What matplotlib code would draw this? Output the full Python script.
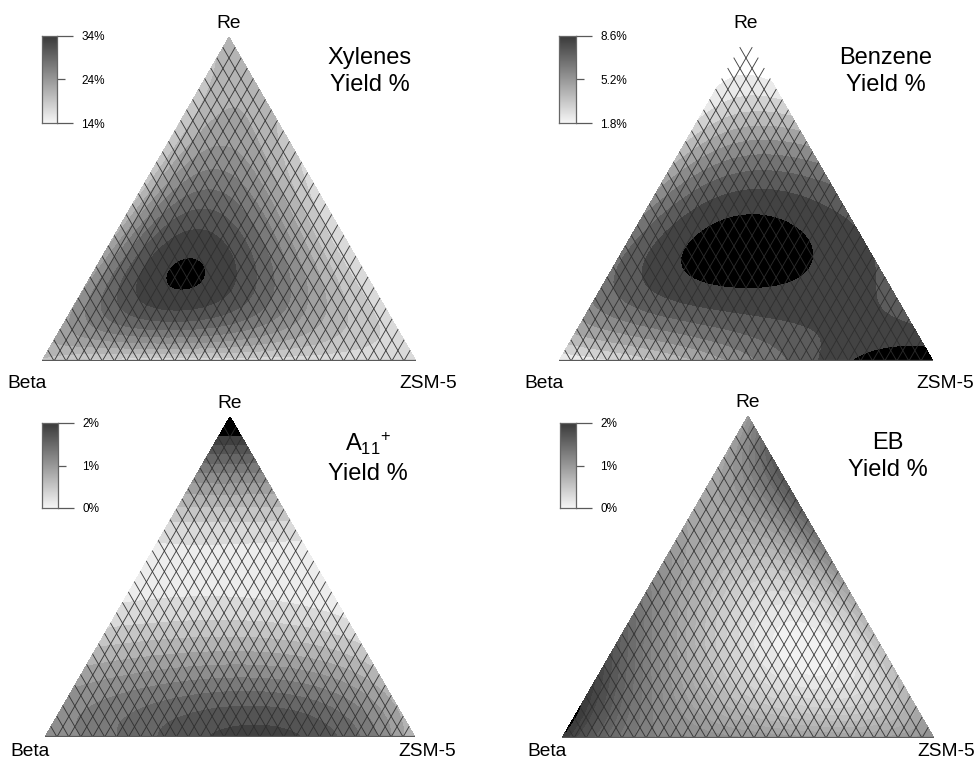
import numpy as np
import matplotlib
matplotlib.use("Agg")
import matplotlib.pyplot as plt
import matplotlib.tri as mtri
from matplotlib.colors import LinearSegmentedColormap

plt.rcParams['font.family'] = ['Liberation Sans', 'DejaVu Sans']
plt.rcParams['mathtext.fontset'] = 'custom'
plt.rcParams['mathtext.rm'] = 'Liberation Sans'
plt.rcParams['mathtext.it'] = 'Liberation Sans'
plt.rcParams['mathtext.default'] = 'regular'

# Simplex-lattice {3,4} mixture design, component fractions in quarters
design_beta = [4, 3, 2, 1, 0, 3, 2, 1, 0, 2, 1, 0, 1, 0, 0]
design_zsm5 = [0, 1, 2, 3, 4, 0, 1, 2, 3, 0, 1, 2, 0, 1, 0]
design_re   = [0, 0, 0, 0, 0, 1, 1, 1, 1, 2, 2, 2, 3, 3, 4]

# Yields (%) at the design points
xylenes_yield = [19.5, 16.5, 16.5, 16.5, 17.0, 23.5, 34.3, 27.8, 16.5, 19.5, 28.2, 16.5, 18.0, 20.0, 21.0]
benzene_yield = [1.8, 3.3, 5.7, 8.3, 9.6, 6.6, 8.6, 8.6, 7.6, 5.5, 8.1, 7.3, 2.6, 3.6, 1.6]
a11_yield     = [1.0, 1.5, 1.85, 1.7, 0.6, 0.7, 0.85, 0.85, 0.5, 0.1, 0.12, 0.05, 0.75, 0.75, 2.4]
eb_yield      = [1.98, 1.2, 1.0, 0.9, 1.1, 1.75, 0.65, 0.05, 0.6, 1.15, 0.45, 1.0, 0.85, 1.65, 0.95]

titles = ["Xylenes\nYield %", "Benzene\nYield %", "A$_{11}$$^{+}$\nYield %", "EB\nYield %"]
bar_labels = [["14%", "24%", "34%"], ["1.8%", "5.2%", "8.6%"], ["0%", "1%", "2%"], ["0%", "1%", "2%"]]
bar_ranges = [(14.0, 34.0), (1.8, 8.6), (0.0, 2.0), (0.0, 2.0)]
vertex_names = ["Beta", "ZSM-5", "Re"]

W, H = 974, 762
SQ = np.sqrt(3) / 2

fig = plt.figure(figsize=(W / 100, H / 100), dpi=100)

cmap = LinearSegmentedColormap.from_list("yield_gray", [(0.965, 0.965, 0.965), (0.22, 0.22, 0.22)])
cmap.set_over("black")
cmap.set_under("white")

# exponents of the homogeneous quartic Scheffe polynomial
EXPS = [(a, b, 4 - a - b) for a in range(5) for b in range(5 - a)]


def fit_quartic(values):
    xb = np.array(design_beta) / 4.0
    xz = np.array(design_zsm5) / 4.0
    xr = np.array(design_re) / 4.0
    A = np.column_stack([xb**a * xz**b * xr**c for a, b, c in EXPS])
    return np.linalg.solve(A, np.asarray(values, float))


def eval_quartic(coef, b, z, r):
    return sum(k * b**a * z**p * r**c for k, (a, p, c) in zip(coef, EXPS))


def to_xy(b, z, r):
    return z + r / 2.0, r * SQ


# evaluation lattice
n = 160
ii, jj = np.meshgrid(np.arange(n + 1), np.arange(n + 1), indexing="ij")
mask = ii + jj <= n
gb = ii[mask] / n
gz = jj[mask] / n
gr = np.clip(1 - gb - gz, 0, 1)
gx, gy = to_xy(gb, gz, gr)
tri = mtri.Triangulation(gx, gy)

# panel layout in pixels: (left corner x, base y, side length)
panels = [(42, 361, 374), (559, 361, 374), (45, 737, 370), (562, 738, 372)]
bar_boxes = [(42, 36, 57, 123), (559, 36, 576, 123), (42, 423, 58, 508), (560, 423, 576, 508)]
title_offsets = [(141, -34), (140, -34), (138, -41), (140, -41)]
corner_label_dy = [-22, -22, -14, -14]
n_levels = [10, 8, 10, 20]

responses = [xylenes_yield, benzene_yield, a11_yield, eb_yield]
N_GRID = 31

for idx, (vals, (x0, yb, side)) in enumerate(zip(responses, panels)):
    ax = fig.add_axes([x0 / W, (H - yb) / H, side / W, side * SQ / H])
    ax.set_xlim(0, 1)
    ax.set_ylim(0, SQ)
    ax.axis("off")

    coef = fit_quartic(vals)
    zval = eval_quartic(coef, gb, gz, gr)
    vmin, vmax = bar_ranges[idx]
    levels = np.linspace(vmin, vmax, n_levels[idx] + 1)
    ax.tricontourf(tri, zval, levels=levels, cmap=cmap, extend="both",
                   vmin=vmin, vmax=vmax)

    # composition grid lines (iso-Beta and iso-ZSM-5)
    for k in range(1, N_GRID):
        t = k / N_GRID
        xa, ya = to_xy(1 - t, t, 0.0)
        xc, yc = to_xy(0.0, t, 1 - t)
        ax.plot([xa, xc], [ya, yc], color="0.18", lw=0.65, alpha=0.9)
        xa, ya = to_xy(t, 1 - t, 0.0)
        xc, yc = to_xy(t, 0.0, 1 - t)
        ax.plot([xa, xc], [ya, yc], color="0.18", lw=0.65, alpha=0.9)
    ax.plot([0, 1], [0, 0], color="0.35", lw=1.6, solid_capstyle="butt")

    # vertex labels
    dy = corner_label_dy[idx]
    ax.annotate(vertex_names[2], xy=(0.5, SQ), xytext=(0, 5), textcoords="offset pixels",
                ha="center", va="bottom", fontsize=13.8, annotation_clip=False)
    ax.annotate(vertex_names[0], xy=(0, 0), xytext=(-15, dy), textcoords="offset pixels",
                ha="center", va="center", fontsize=13.8, annotation_clip=False)
    ax.annotate(vertex_names[1], xy=(1, 0), xytext=(12, dy), textcoords="offset pixels",
                ha="center", va="center", fontsize=13.8, annotation_clip=False)
    tx, ty = title_offsets[idx]
    ax.annotate(titles[idx], xy=(0.5, SQ), xytext=(tx, ty), textcoords="offset pixels",
                ha="center", va="center", fontsize=17, linespacing=1.3,
                multialignment="center", annotation_clip=False)

    # gray-scale bar
    bx0, by0, bx1, by1 = bar_boxes[idx]
    cax = fig.add_axes([bx0 / W, 1 - by1 / H, (bx1 - bx0) / W, (by1 - by0) / H])
    grad = np.linspace(vmin, vmax, 256).reshape(-1, 1)
    cax.imshow(grad, aspect="auto", cmap=cmap, origin="lower",
               extent=(0, 1, vmin, vmax), vmin=vmin, vmax=vmax)
    cax.set_xticks([])
    cax.yaxis.tick_right()
    labs = bar_labels[idx]
    cax.set_yticks([vmin, vmax])
    cax.set_yticklabels([labs[0], labs[2]])
    cax.set_yticks([(vmin + vmax) / 2], minor=True)
    cax.set_yticklabels([labs[1]], minor=True)
    cax.tick_params(axis="y", which="major", length=11.5, width=0.9, color="0.35",
                    pad=6.0, labelsize=8.5)
    cax.tick_params(axis="y", which="minor", length=5.8, width=0.9, color="0.35",
                    pad=11.7, labelsize=8.5)
    for s in cax.spines.values():
        s.set_color("0.4")
        s.set_linewidth(0.9)

fig.savefig("out.png", dpi=100, facecolor="white")
